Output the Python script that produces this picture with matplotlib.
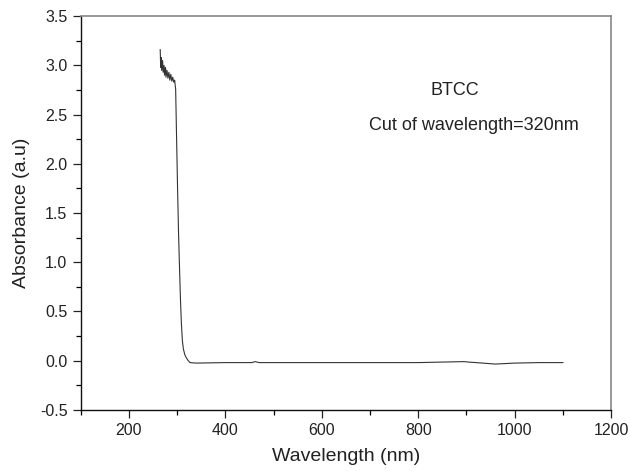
import matplotlib
matplotlib.use("Agg")
import matplotlib.pyplot as plt
from matplotlib.ticker import MultipleLocator

plt.rcParams['font.family'] = ['Liberation Sans', 'DejaVu Sans']
plt.rcParams['axes.unicode_minus'] = False

# UV-Vis absorbance spectrum of BTCC
wavelength = [265, 266, 267, 268, 270, 271, 273, 274, 276, 277, 279, 281,
              283, 285, 287, 289, 291, 293, 295, 296, 297, 299, 301, 303,
              305, 307, 309, 311, 313, 316, 319, 323, 327, 340, 400, 455,
              462, 470, 600, 800, 895, 905, 920, 960, 1000, 1050, 1100]
absorbance = [3.16, 2.98, 3.08, 2.95, 3.05, 2.93, 3.00, 2.90, 2.98, 2.88,
              2.95, 2.87, 2.93, 2.85, 2.91, 2.84, 2.88, 2.83, 2.85, 2.80,
              2.76, 2.25, 1.75, 1.30, 0.95, 0.62, 0.37, 0.20, 0.12, 0.06,
              0.03, 0.00, -0.02, -0.025, -0.02, -0.02, -0.01, -0.02, -0.02,
              -0.02, -0.01, -0.015, -0.02, -0.035, -0.025, -0.02, -0.02]

x_limits = (100, 1200)
y_limits = (-0.5, 3.5)

fig = plt.figure(figsize=(6.3, 4.76), dpi=100)
ax = fig.add_axes([0.128, 0.139, 0.842, 0.827])

ax.plot(wavelength, absorbance, color='#333333', linewidth=0.8)

ax.set_xlim(*x_limits)
ax.set_ylim(*y_limits)
ax.xaxis.set_major_locator(MultipleLocator(200))
ax.xaxis.set_minor_locator(MultipleLocator(100))
ax.yaxis.set_major_locator(MultipleLocator(0.5))
ax.yaxis.set_minor_locator(MultipleLocator(0.25))

ax.tick_params(which='major', direction='out', length=6, width=0.9,
               labelsize=11.5, colors='#222222', top=False, right=False)
ax.tick_params(which='minor', direction='out', length=3.5, width=0.9,
               top=False, right=False)
ax.set_xticks([200, 400, 600, 800, 1000, 1200])
ax.set_xticklabels(['200', '400', '600', '800', '1000', '1200'])

for side in ('left', 'bottom'):
    ax.spines[side].set_color('#111111')
    ax.spines[side].set_linewidth(1.0)
for side in ('top', 'right'):
    ax.spines[side].set_color('#888888')
    ax.spines[side].set_linewidth(1.2)

ax.set_xlabel('Wavelength (nm)', fontsize=14, color='#222222', labelpad=7)
ax.set_ylabel('Absorbance (a.u)', fontsize=14, color='#222222', labelpad=7)

# annotations placed in axes-fraction coordinates
ax.text((455 - 80.5) / 530.5, 1 - (90 - 16) / 394, 'BTCC',
        transform=ax.transAxes, fontsize=13, color='#222222',
        ha='center', va='center')
ax.text((474 - 80.5) / 530.5, 1 - (125 - 16) / 394,
        'Cut of wavelength=320nm', transform=ax.transAxes, fontsize=13,
        color='#222222', ha='center', va='center')

fig.savefig('out.png', dpi=100)
